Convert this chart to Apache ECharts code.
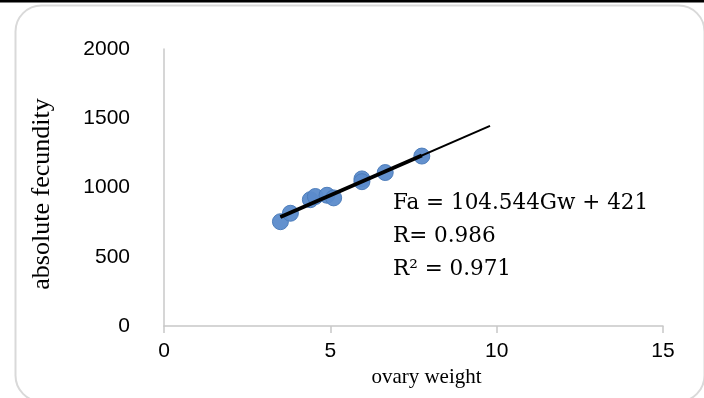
<!DOCTYPE html>
<html>
<head>
<meta charset="utf-8">
<script src="https://cdn.jsdelivr.net/npm/echarts@6/dist/echarts.min.js"></script>
<style>
html,body{margin:0;padding:0;background:#fff;}
#chart{width:704px;height:398px;}
</style>
</head>
<body>
<div id="chart"></div>
<script>
// Data
var ovaryWeight = [3.5, 3.8, 4.4, 4.55, 4.9, 5.1, 5.95, 5.95, 6.65, 7.75];
var fecundity   = [753, 814, 912, 935, 944, 925, 1062, 1042, 1108, 1227];
// Trend line endpoints
var trendThickX = [3.5, 7.75];
var trendThickY = [787, 1231];
var trendThinX  = [3.5, 9.8];
var trendThinY  = [787, 1445];
var xTicks = [0, 5, 10, 15];
var yTicks = [0, 500, 1000, 1500, 2000];
var eqLines = ['Fa = 104.544Gw + 421', 'R= 0.986', 'R\u00b2 = 0.971'];

function zip(a, b){ return a.map(function(v,i){ return [v, b[i]]; }); }

var chart = echarts.init(document.getElementById('chart'), null, {renderer:'canvas'});
var option = {
  animation: false,
  backgroundColor: '#fff',
  grid: {left: 164, right: 41, top: 49, bottom: 72, containLabel: false},
  xAxis: {
    type: 'value', min: 0, max: 15, interval: 5,
    name: 'ovary weight', nameLocation: 'middle', nameGap: 31,
    nameTextStyle: {fontFamily: 'Liberation Serif', fontSize: 21, color: '#000', padding: [0,0,0,26]},
    axisLine: {show: true, lineStyle: {color: '#c8c8c8', width: 1.5}},
    axisTick: {show: true, length: 7, lineStyle: {color: '#c8c8c8', width: 1.5}},
    axisLabel: {fontFamily: 'Liberation Sans', fontSize: 21, color: '#000', margin: 15,
      formatter: function(v){ return String(v); }},
    splitLine: {show: false}
  },
  yAxis: {
    type: 'value', min: 0, max: 2000, interval: 500,
    axisLine: {show: true, lineStyle: {color: '#c8c8c8', width: 1.5}},
    axisTick: {show: false},
    axisLabel: {fontFamily: 'Liberation Sans', fontSize: 21, color: '#000', margin: 34,
      formatter: function(v){ return String(v); }},
    splitLine: {show: false}
  },
  graphic: [
    {type: 'rect', left: 13, top: 3, z: -1, silent: true,
     shape: {width: 689, height: 396, r: 26},
     style: {fill: 'none', stroke: '#d9d9d9', lineWidth: 2}},
    {type: 'rect', left: 0, top: 0, silent: true,
     shape: {width: 704, height: 2.5},
     style: {fill: '#000'}},
    {type: 'text', x: 42, y: 194, rotation: Math.PI / 2, silent: true,
     style: {text: 'absolute fecundity', fontFamily: 'Liberation Serif', fontSize: 26, fill: '#000',
       textAlign: 'center', textVerticalAlign: 'middle'}},
    {type: 'text', left: 393, top: 192, style: {text: eqLines[0], fontFamily: 'DejaVu Serif', fontSize: 21.5, fill: '#000'}},
    {type: 'text', left: 393, top: 225, style: {text: eqLines[1], fontFamily: 'DejaVu Serif', fontSize: 21.5, fill: '#000'}},
    {type: 'text', left: 393, top: 258, style: {text: eqLines[2], fontFamily: 'DejaVu Serif', fontSize: 21.5, fill: '#000'}}
  ],
  series: [
    {
      type: 'scatter', data: zip(ovaryWeight, fecundity), symbolSize: 16, z: 2,
      itemStyle: {color: '#5b8bcb', borderColor: '#4a7ab8', borderWidth: 1, opacity: 0.95}
    },
    {
      type: 'line', data: zip(trendThinX, trendThinY), symbol: 'none', z: 3,
      lineStyle: {color: '#000', width: 2}
    },
    {
      type: 'line', data: zip(trendThickX, trendThickY), symbol: 'none', z: 4,
      lineStyle: {color: '#000', width: 4}
    }
  ]
};
chart.setOption(option);
</script>
</body>
</html>
